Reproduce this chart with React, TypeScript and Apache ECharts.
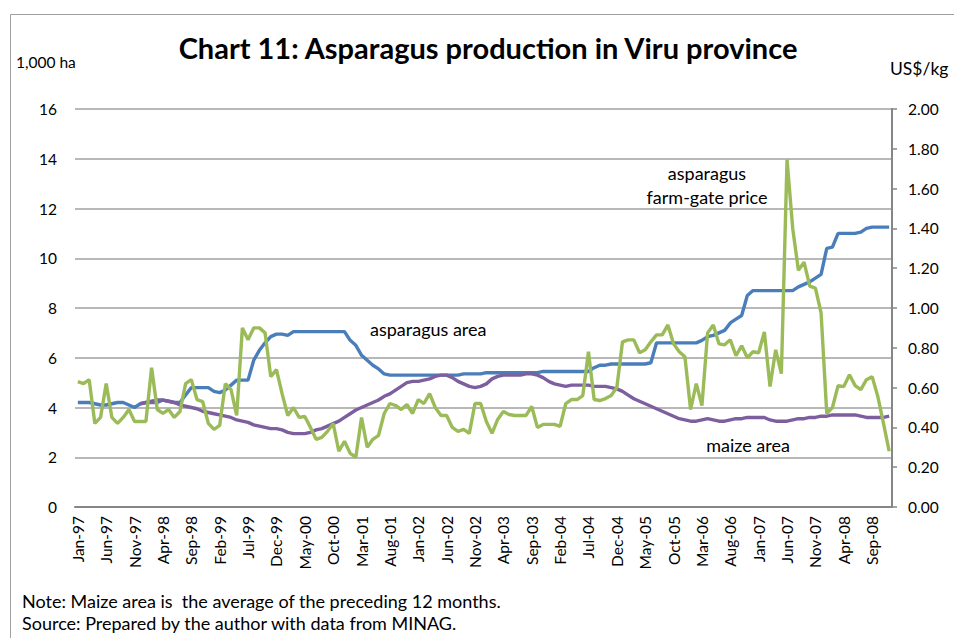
import React, { useEffect, useRef } from "react";
import * as echarts from "echarts";

const monthNames = ["Jan", "Feb", "Mar", "Apr", "May", "Jun", "Jul", "Aug", "Sep", "Oct", "Nov", "Dec"];
const years = ["97", "98", "99", "00", "01", "02", "03", "04", "05", "06", "07", "08"];
const categories: string[] = [];
years.forEach((y) => monthNames.forEach((m) => categories.push(`${m}-${y}`)));

// asparagus area, 1,000 ha (left axis)
const asparagusArea = [
  4.2, 4.2, 4.2, 4.15, 4.1, 4.1, 4.15, 4.2, 4.2, 4.1, 4.0, 4.15,
  4.2, 4.2, 4.2, 4.3, 4.25, 4.2, 4.2, 4.5, 4.8, 4.8, 4.8, 4.8,
  4.65, 4.6, 4.7, 4.9, 5.1, 5.1, 5.1, 5.9, 6.3, 6.6, 6.85, 6.95,
  6.95, 6.9, 7.05, 7.05, 7.05, 7.05, 7.05, 7.05, 7.05, 7.05, 7.05, 7.05,
  6.7, 6.5, 6.1, 5.9, 5.7, 5.55, 5.35, 5.3, 5.3, 5.3, 5.3, 5.3,
  5.3, 5.3, 5.3, 5.3, 5.3, 5.3, 5.3, 5.3, 5.35, 5.35, 5.35, 5.35,
  5.4, 5.4, 5.4, 5.4, 5.4, 5.4, 5.4, 5.4, 5.4, 5.4, 5.45, 5.45,
  5.45, 5.45, 5.45, 5.45, 5.45, 5.45, 5.45, 5.6, 5.7, 5.7, 5.75, 5.75,
  5.75, 5.75, 5.75, 5.75, 5.75, 5.8, 6.6, 6.6, 6.6, 6.6, 6.6, 6.6,
  6.6, 6.6, 6.7, 6.85, 6.9, 7.0, 7.1, 7.4, 7.55, 7.7, 8.5, 8.7,
  8.7, 8.7, 8.7, 8.7, 8.7, 8.7, 8.7, 8.85, 8.95, 9.05, 9.2, 9.35,
  10.4, 10.45, 11.0, 11.0, 11.0, 11.0, 11.05, 11.2, 11.25, 11.25, 11.25, 11.25,
];

// maize area, 1,000 ha (left axis), 12-month trailing average
const maizeArea = [
  null, null, null, null, null, null, null, null, null, null, null, 4.15,
  4.2, 4.25, 4.3, 4.3, 4.25, 4.2, 4.1, 4.05, 4.0, 3.95, 3.85, 3.8,
  3.75, 3.7, 3.65, 3.6, 3.5, 3.45, 3.4, 3.3, 3.25, 3.2, 3.15, 3.15,
  3.1, 3.0, 2.95, 2.95, 2.95, 3.0, 3.1, 3.15, 3.25, 3.35, 3.45, 3.6,
  3.75, 3.9, 4.0, 4.1, 4.2, 4.3, 4.45, 4.55, 4.7, 4.85, 5.0, 5.05,
  5.05, 5.1, 5.15, 5.25, 5.3, 5.3, 5.2, 5.05, 4.95, 4.85, 4.8, 4.85,
  4.95, 5.15, 5.25, 5.3, 5.3, 5.3, 5.3, 5.35, 5.35, 5.3, 5.2, 5.05,
  4.95, 4.9, 4.85, 4.9, 4.9, 4.9, 4.9, 4.85, 4.85, 4.85, 4.8, 4.75,
  4.65, 4.5, 4.35, 4.25, 4.15, 4.05, 3.95, 3.85, 3.75, 3.65, 3.55, 3.5,
  3.45, 3.45, 3.5, 3.55, 3.5, 3.45, 3.45, 3.5, 3.55, 3.55, 3.6, 3.6,
  3.6, 3.6, 3.5, 3.45, 3.45, 3.45, 3.5, 3.55, 3.55, 3.6, 3.6, 3.65,
  3.65, 3.7, 3.7, 3.7, 3.7, 3.7, 3.65, 3.6, 3.6, 3.6, 3.6, 3.65,
];

// asparagus farm-gate price, US$/kg (right axis)
const farmGatePrice = [
  0.63, 0.62, 0.64, 0.42, 0.45, 0.62, 0.45, 0.42, 0.45, 0.49, 0.43, 0.43,
  0.43, 0.70, 0.49, 0.47, 0.49, 0.45, 0.48, 0.62, 0.64, 0.54, 0.53, 0.42,
  0.39, 0.41, 0.62, 0.59, 0.46, 0.90, 0.84, 0.90, 0.90, 0.875, 0.655, 0.69,
  0.57, 0.46, 0.50, 0.45, 0.455, 0.40, 0.34, 0.35, 0.38, 0.42, 0.28, 0.33,
  0.27, 0.25, 0.45, 0.30, 0.34, 0.36, 0.47, 0.52, 0.51, 0.49, 0.515, 0.47,
  0.54, 0.52, 0.57, 0.50, 0.46, 0.46, 0.40, 0.38, 0.39, 0.37, 0.52, 0.52,
  0.43, 0.37, 0.44, 0.48, 0.465, 0.46, 0.46, 0.46, 0.505, 0.40, 0.415, 0.415,
  0.415, 0.405, 0.52, 0.54, 0.54, 0.56, 0.78, 0.54, 0.535, 0.545, 0.56, 0.60,
  0.83, 0.84, 0.84, 0.775, 0.79, 0.83, 0.865, 0.865, 0.915, 0.82, 0.78, 0.755,
  0.49, 0.62, 0.51, 0.875, 0.915, 0.82, 0.815, 0.84, 0.76, 0.81, 0.75, 0.78,
  0.775, 0.88, 0.605, 0.79, 0.67, 1.745, 1.40, 1.19, 1.23, 1.11, 1.10, 0.975,
  0.47, 0.50, 0.61, 0.605, 0.665, 0.61, 0.59, 0.64, 0.655, 0.555, 0.42, 0.28,
];

const FONT = "Lato";

export default function App() {
  const ref = useRef<HTMLDivElement>(null);
  useEffect(() => {
    if (!ref.current) return;
    const chart = echarts.init(ref.current, undefined, { renderer: "svg" });
    const txt = (x: number, y: number, text: string, size: number, align: string, extra: any = {}) => ({
      type: "text",
      x,
      y,
      style: {
        text,
        fontSize: size,
        fontFamily: FONT,
        fill: "#000",
        textAlign: align,
        textVerticalAlign: "middle",
        ...extra,
      },
    });
    chart.setOption({
      animation: false,
      backgroundColor: "#fff",
      grid: { left: 75, right: 62, top: 109, bottom: 131, containLabel: false },
      xAxis: {
        type: "category",
        data: categories,
        boundaryGap: true,
        axisLine: { lineStyle: { color: "#868686", width: 2 } },
        axisTick: { show: false },
        axisLabel: {
          interval: 4,
          rotate: 90,
          fontSize: 15.5,
          fontFamily: FONT,
          color: "#000",
          margin: 9,
        },
        splitLine: { show: false },
      },
      yAxis: [
        {
          type: "value",
          min: 0,
          max: 16,
          interval: 2,
          axisLine: { show: false },
          axisTick: { show: false },
          axisLabel: { fontSize: 15.5, fontFamily: FONT, color: "#000", margin: 18 },
          splitLine: { lineStyle: { color: "#a0a0a0", width: 1.5 } },
        },
        {
          type: "value",
          min: 0,
          max: 2,
          interval: 0.2,
          position: "right",
          axisLine: { show: true, lineStyle: { color: "#868686", width: 2 } },
          axisTick: { show: true, length: 5, lineStyle: { color: "#868686", width: 1.5 } },
          axisLabel: {
            fontSize: 15.5,
            fontFamily: FONT,
            color: "#000",
            margin: 16,
            formatter: (v: number) => v.toFixed(2),
          },
          splitLine: { show: false },
        },
      ],
      series: [
        {
          name: "asparagus area",
          type: "line",
          data: asparagusArea,
          yAxisIndex: 0,
          showSymbol: false,
          lineStyle: { color: "#4a7ebb", width: 3.4 },
          itemStyle: { color: "#4a7ebb" },
        },
        {
          name: "maize area",
          type: "line",
          data: maizeArea,
          yAxisIndex: 0,
          showSymbol: false,
          connectNulls: false,
          lineStyle: { color: "#7d5fa0", width: 3.4 },
          itemStyle: { color: "#7d5fa0" },
        },
        {
          name: "asparagus farm-gate price",
          type: "line",
          data: farmGatePrice,
          yAxisIndex: 1,
          showSymbol: false,
          lineStyle: { color: "#9bbb59", width: 3.4 },
          itemStyle: { color: "#9bbb59" },
        },
      ],
      graphic: [
        { type: "line", shape: { x1: 10.5, y1: 14.5, x2: 954, y2: 14.5 }, style: { stroke: "#a0a0a0", lineWidth: 1 } },
        { type: "line", shape: { x1: 10.5, y1: 14.5, x2: 10.5, y2: 638 }, style: { stroke: "#a0a0a0", lineWidth: 1 } },
        txt(488, 47, "Chart 11: Asparagus production in Viru province", 29, "center", { fontWeight: "bold" }),
        txt(16, 62, "1,000 ha", 15.5, "left"),
        txt(890, 68, "US$/kg", 17.5, "left"),
        txt(370, 329, "asparagus area", 18, "left"),
        txt(707, 173, "asparagus", 18, "center"),
        txt(707, 197, "farm-gate price", 18, "center"),
        txt(748, 445, "maize area", 18, "center"),
        txt(22, 601, "Note: Maize area is  the average of the preceding 12 months.", 18, "left"),
        txt(22, 623, "Source: Prepared by the author with data from MINAG.", 18, "left"),
      ],
    });
    return () => chart.dispose();
  }, []);
  return (
    <div
      ref={ref}
      style={{ position: "absolute", left: 0, top: 0, width: 954, height: 638, background: "#fff" }}
    />
  );
}
